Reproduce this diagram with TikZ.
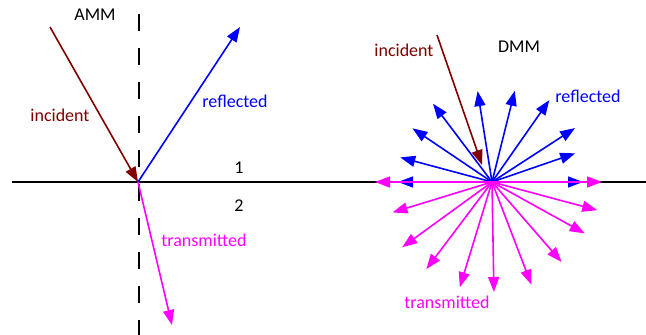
\documentclass[tikz,border=0pt]{standalone}
\usepackage{fontspec}
\setmainfont{Carlito}
\usetikzlibrary{arrows.meta,calc}
\definecolor{incred}{RGB}{128,0,0}
\definecolor{refblue}{RGB}{0,0,255}
\definecolor{trmag}{RGB}{255,0,255}
\tikzset{
  ray/.style={line width=1.6pt,-{Triangle[length=15pt,width=11pt]}},
  lbl/.style={anchor=base,inner sep=0pt,font=\fontsize{18}{20}\selectfont},
}
\begin{document}
\begin{tikzpicture}[x=1pt,y=1pt]
\useasboundingbox (0,0) rectangle (646,335);
% interface
\coordinate (L0) at (12,153);
\coordinate (L1) at (646,153);
\draw[line width=1.5pt] (L0) -- (L1);
% AMM
\coordinate (N0) at (139,321);
\coordinate (N1) at (139,0);
\draw[line width=2pt,dash pattern=on 17pt off 17pt] (N0) -- (N1);
\coordinate (A) at (138,153);
\coordinate (Ainc) at (50,308);
\coordinate (Aref) at (240,308);
\coordinate (Atr) at (172,10);
\draw[ray,refblue] (A) -- (Aref);
\draw[ray,trmag] (A) -- (Atr);
\draw[ray,incred] (Ainc) -- (A);
\node[lbl] (amm) at (95,314) {AMM};
\node[lbl,text=incred] (incA) at (60,213) {incident};
\node[lbl,text=refblue] (refA) at (235,227) {reflected};
\node[lbl] (one) at (239,161) {1};
\node[lbl] (two) at (239,123) {2};
\node[lbl,text=trmag] (trA) at (204,88) {transmitted};
% DMM
\coordinate (D) at (492,153);
\foreach \a/\r [count=\i] in {165/95,146/96,127/98,99/92,76/94,55/100,33/99,19/88,0/91,180/94}{
  \coordinate (B\i) at ($(D)+(\a:\r)$);
}
\foreach \a/\r [count=\i] in {180/117,197/104,216/111,233/109,253/110,271/110,291/110,311/106,331/106,345/109,0/110}{
  \coordinate (P\i) at ($(D)+(\a:\r)$);
}
\foreach \i in {1,...,10}{\draw[ray,refblue] (D) -- (B\i);}
\foreach \i in {1,...,11}{\draw[ray,trmag] (D) -- (P\i);}
\coordinate (Dinc) at (437,300);
\coordinate (Dtip) at (482,170);
\draw[ray,incred] (Dinc) -- (Dtip);
\node[lbl] (dmm) at (519,282) {DMM};
\node[lbl,text=incred] (incD) at (404,278) {incident};
\node[lbl,text=refblue] (refD) at (588,232) {reflected};
\node[lbl,text=trmag] (trD) at (447,27) {transmitted};
\end{tikzpicture}
\end{document}
